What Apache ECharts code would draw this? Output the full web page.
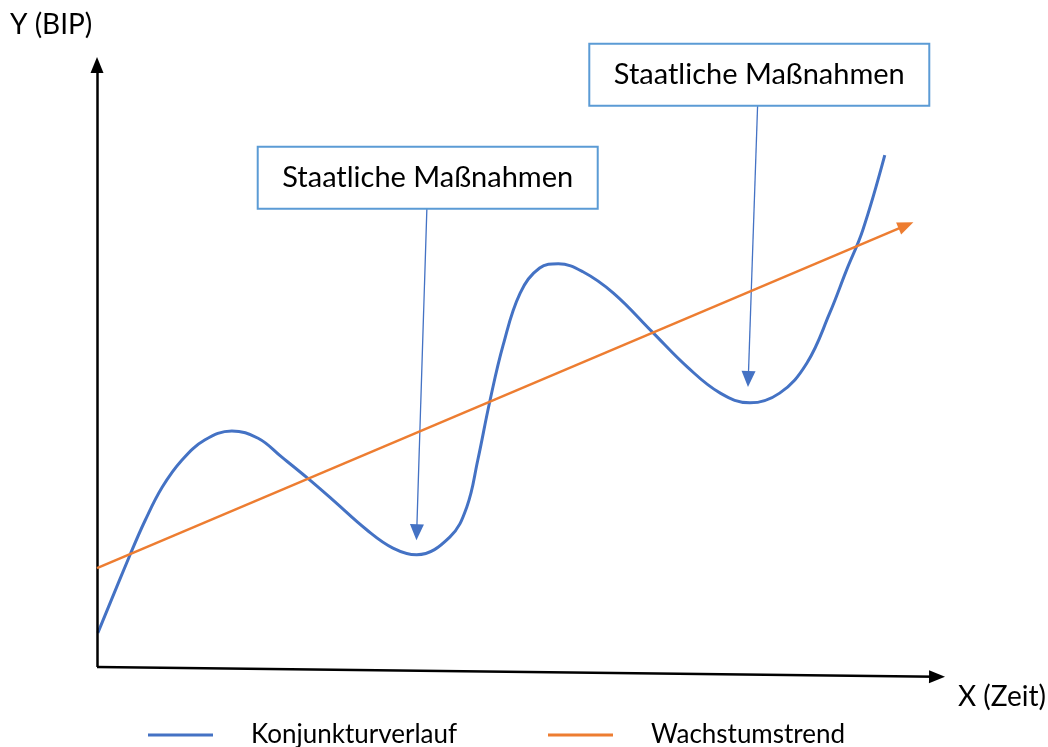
<!DOCTYPE html>
<html><head><meta charset="utf-8">
<script src="https://cdn.jsdelivr.net/npm/echarts@6/dist/echarts.min.js"></script>
<style>html,body{margin:0;padding:0;background:#fff}#c{width:1048px;height:747px}</style>
</head><body><div id="c"></div>
<script>
// Konjunkturverlauf (business cycle) – x: Zeit (0..100), y: BIP
const cycleX = [0.1, 3.9, 5.7, 7.7, 10.0, 12.7, 15.9, 19.0, 21.8, 24.8, 27.8, 31.8, 34.9, 37.7, 41.6, 43.6, 44.9, 46.3, 47.9, 49.9, 52.2, 54.4, 57.3, 60.9, 65.5, 69.6, 73.5, 77.0, 80.5, 83.7, 86.4, 88.4, 90.3, 92.9];
const cycleY = [5.6, 18.4, 24.1, 29.5, 33.9, 37.2, 38.7, 37.5, 34.4, 31.0, 27.4, 22.5, 19.5, 18.4, 21.3, 26.2, 33.9, 43.4, 52.8, 61.3, 65.4, 66.1, 64.8, 61.3, 54.9, 49.2, 44.9, 43.3, 44.9, 49.8, 58.0, 65.1, 71.6, 83.9];
// Wachstumstrend (growth trend): start and end
const trendX = [0, 95.4];
const trendY = [16.2, 72.4];
// Annotations: box centre, arrow start (box bottom) and arrow end
const noteText = ['Staatliche Maßnahmen', 'Staatliche Maßnahmen'];
const noteBox = [[39.0, 80.2], [78.1, 97.1]];
const noteFrom = [[38.9, 75.1], [77.9, 92.0]];
const noteTo = [[37.7, 22.1], [76.8, 47.2]];
const seriesNames = ['Konjunkturverlauf', 'Wachstumstrend'];

const FONT = 'Lato';
const blue = '#4472c4', orange = '#ed7d31', boxBorder = '#5b9bd5';

const chart = echarts.init(document.getElementById('c'), null, {renderer: 'canvas'});
chart.setOption({
  animation: false,
  backgroundColor: '#fff',
  grid: {left: 97, right: 103, top: 57, bottom: 67.8},
  xAxis: {type: 'value', min: 0, max: 100, show: false},
  yAxis: {type: 'value', min: -2, max: 100, show: false},
  legend: [
    {data: [seriesNames[0]], left: 143, top: 717, itemWidth: 65, itemHeight: 3, icon: 'rect',
     textStyle: {fontFamily: FONT, fontSize: 26, color: '#000', padding: [0, 0, 8, 33]}},
    {data: [seriesNames[1]], left: 543, top: 717, itemWidth: 65, itemHeight: 3, icon: 'rect',
     textStyle: {fontFamily: FONT, fontSize: 26, color: '#000', padding: [0, 0, 8, 33]}}
  ],
  graphic: [
    {type: 'text', left: 10, top: 11, style: {text: 'Y (BIP)', font: '28px ' + FONT, fill: '#000'}},
    {type: 'text', left: 958, top: 683, style: {text: 'X (Zeit)', font: '28px ' + FONT, fill: '#000'}}
  ],
  series: [
    {
      name: 'axes', type: 'line', data: [], silent: true,
      markLine: {
        silent: true, symbol: ['none', 'triangle'], symbolSize: [13, 16],
        lineStyle: {color: '#000', width: 2.5, type: 'solid'}, label: {show: false},
        data: [
          [{coord: [0, 0]}, {coord: [0, 98.7]}],
          [{coord: [0, 0]}, {coord: [99.06, -1.6]}]
        ]
      }
    },
    {
      name: seriesNames[0], type: 'line', smooth: 0.4, showSymbol: false, symbol: 'none',
      data: cycleX.map((x, i) => [x, cycleY[i]]),
      lineStyle: {color: blue, width: 3}, itemStyle: {color: blue},
      markLine: {
        silent: true, symbol: ['none', 'triangle'], symbolSize: [14, 16],
        lineStyle: {color: blue, width: 1.3, type: 'solid'}, label: {show: false},
        data: noteFrom.map((f, i) => [{coord: f}, {coord: noteTo[i]}])
      },
      markPoint: {
        silent: true, symbol: 'rect', symbolSize: 1,
        itemStyle: {color: 'rgba(0,0,0,0)'},
        label: {show: true, position: 'inside', color: '#000', fontFamily: FONT, fontSize: 29,
          backgroundColor: '#fff', borderColor: boxBorder, borderWidth: 2,
          width: 338, height: 60, lineHeight: 60, align: 'center', verticalAlign: 'middle', padding: 0},
        data: noteBox.map((c, i) => ({coord: c, value: noteText[i], label: {formatter: noteText[i]}}))
      },
      z: 3
    },
    {
      name: seriesNames[1], type: 'line', showSymbol: false, symbol: 'none',
      data: [],
      lineStyle: {color: orange, width: 2.5}, itemStyle: {color: orange},
      markLine: {
        silent: true, symbol: ['none', 'triangle'], symbolSize: [13, 16],
        lineStyle: {color: orange, width: 2.5, type: 'solid'}, label: {show: false},
        data: [[{coord: [trendX[0], trendY[0]]}, {coord: [trendX[1], trendY[1]]}]]
      },
      z: 2
    }
  ]
});
</script></body></html>
